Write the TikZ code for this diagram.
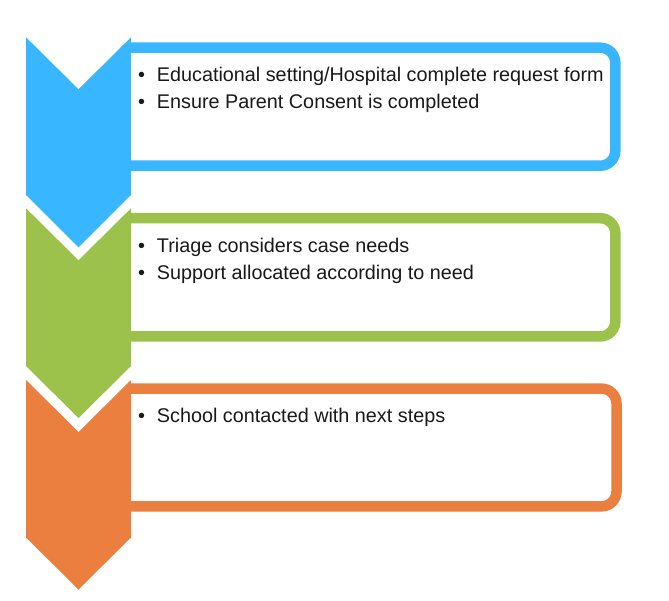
\documentclass[tikz,border=0pt]{standalone}
\usepackage{fontspec}
\setmainfont{Liberation Sans}
\definecolor{cblue}{HTML}{38B6FF}
\definecolor{cgreen}{HTML}{9DC24B}
\definecolor{corange}{HTML}{EB7F40}
\begin{document}
\begin{tikzpicture}[x=1pt,y=-1pt,
  stepbox/.style={line width=10.5pt, rounded corners=15pt},
  chev/.style={fill=#1, draw=none},
  itemtext/.style={anchor=base west, inner sep=0pt, font=\fontsize{19.8}{23}\selectfont, text=black!90},
  bulletmark/.style={anchor=base, inner sep=0pt, font=\fontsize{19.8}{23}\selectfont, text=black!90}
]
\useasboundingbox[fill=white] (0,0) rectangle (669,600);
% boxes (open on the left, where they meet the chevrons)
\draw[stepbox, draw=cblue] (131,47.7) -- (615.3,47.7) -- (615.3,165.7) -- (131,165.7);
\draw[stepbox, draw=cgreen] (131,218.2) -- (615.3,218.2) -- (615.3,336.4) -- (131,336.4);
\draw[stepbox, draw=corange] (131,388.6) -- (616.5,388.6) -- (616.5,506.4) -- (131,506.4);
% chevrons
\fill[chev=cblue] (26,37.3) -- (78.5,89.3) -- (131,37.3) -- (131,195) -- (78.5,247.3) -- (26,195) -- cycle;
\fill[chev=cgreen] (26,208.3) -- (78.5,260.3) -- (131,208.3) -- (131,366) -- (78.5,418) -- (26,366) -- cycle;
\fill[chev=corange] (26,380) -- (78.5,432) -- (131,380) -- (131,537.5) -- (78.5,589.5) -- (26,537.5) -- cycle;
% texts
\node[bulletmark] (b1) at (141.7,81.3) {•};
\node[itemtext] (t1) at (156.7,81.3) {Educational setting/Hospital complete request form};
\node[bulletmark] (b2) at (141.7,108.6) {•};
\node[itemtext] (t2) at (156.7,108.6) {Ensure Parent Consent is completed};
\node[bulletmark] (b3) at (141.7,252.3) {•};
\node[itemtext] (t3) at (156.7,252.3) {Triage considers case needs};
\node[bulletmark] (b4) at (141.7,279.6) {•};
\node[itemtext] (t4) at (156.7,279.6) {Support allocated according to need};
\node[bulletmark] (b5) at (141.7,422.8) {•};
\node[itemtext] (t5) at (156.7,422.8) {School contacted with next steps};
\end{tikzpicture}
\end{document}
